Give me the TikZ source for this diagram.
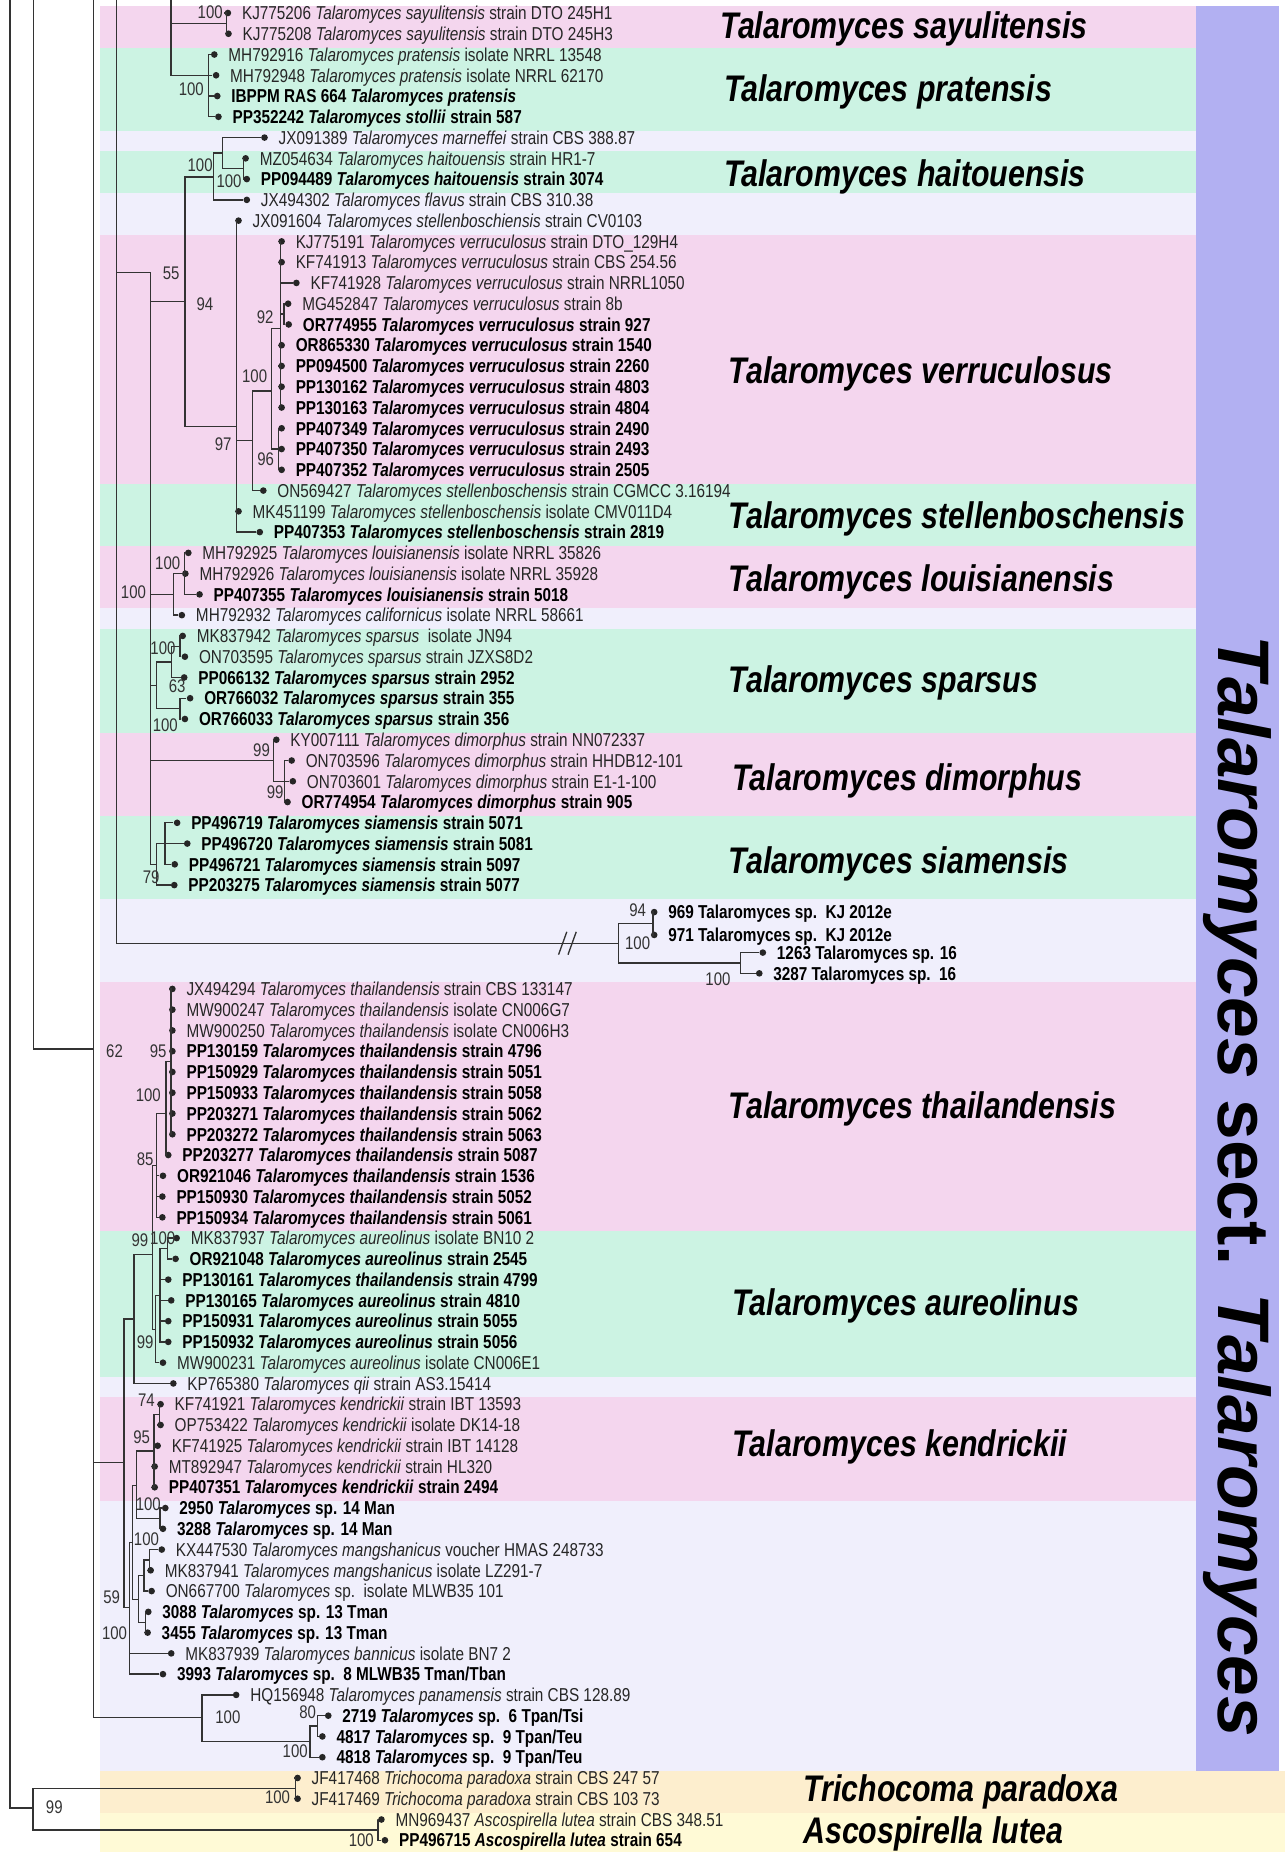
\documentclass[tikz,border=0pt]{standalone}
\usepackage{fontspec}
\setmainfont{Liberation Sans}[FakeStretch=0.82]
\newfontfamily\widefont{Liberation Sans}
\usepackage{xcolor}
\usetikzlibrary{positioning}

\definecolor{bandpink}{RGB}{244,214,238}
\definecolor{bandgreen}{RGB}{204,243,227}
\definecolor{bandlav}{RGB}{240,239,252}
\definecolor{barblue}{RGB}{178,176,242}
\definecolor{bandorange}{RGB}{253,238,206}
\definecolor{bandyellow}{RGB}{255,250,214}

\begin{document}
\begin{tikzpicture}[x=0.025cm, y=-0.4395cm,
    br/.style={draw=black!80, line width=0.8pt},
    tip/.style={circle, fill=black!85, inner sep=0pt, minimum size=4pt},
    txt/.style={font=\fontsize{11.25}{13}\selectfont, inner sep=0pt, xshift=0.215cm, text height=8.1pt, text depth=0pt, text=black!85},
    txtb/.style={txt, font=\fontsize{11.25}{13}\selectfont\bfseries, text=black},
    boot/.style={font=\fontsize{11}{12}\selectfont, inner sep=0pt, text height=7.9pt, text depth=0pt, text=black!80},
    clade/.style={anchor=west, font=\fontsize{22.3}{26}\selectfont\bfseries\itshape, inner sep=0pt, text height=16pt, text depth=0pt}]
                    \useasboundingbox (0,-0.6257) rectangle (1088,88.566);

                    % Background bands behind the clades
                    \fill[bandlav] (85,-0.33) rectangle (1013,84.67);
                    \foreach \a/\b in {0/2, 11/23, 26/29, 35/39, 47/59, 67/72}
                        \fill[bandpink] (85,\a-0.33) rectangle (1013,\b-0.33);
                    \foreach \a/\b in {2/6, 7/9, 23/26, 30/35, 39/43, 59/66}
                        \fill[bandgreen] (85,\a-0.33) rectangle (1013,\b-0.33);
                    \fill[barblue] (1013,-0.33) rectangle (1083,84.67);
                    \fill[bandorange] (85,84.67) rectangle (1088,86.67);
                    \fill[bandyellow] (85,86.67) rectangle (1088,88.566);

                    % Tips with their labels
                    \node[tip, label={[txt]right:{KJ775206 \textit{Talaromyces sayulitensis} strain DTO 245H1}}] (t00) at (193,0) {};
                    \node[tip, label={[txt]right:{KJ775208 \textit{Talaromyces sayulitensis} strain DTO 245H3}}] (t01) at (193.5,1) {};
                    \node[tip, label={[txt]right:{MH792916 \textit{Talaromyces pratensis} isolate NRRL 13548}}] (t02) at (181.5,2) {};
                    \node[tip, label={[txt]right:{MH792948 \textit{Talaromyces pratensis} isolate NRRL 62170}}] (t03) at (183,3) {};
                    \node[tip, label={[txtb]right:{IBPPM RAS 664 \textit{Talaromyces pratensis}}}] (t04) at (184,4) {};
                    \node[tip, label={[txtb]right:{PP352242 \textit{Talaromyces stollii} strain 587}}] (t05) at (185,5) {};
                    \node[tip, label={[txt]right:{JX091389 \textit{Talaromyces marneffei} strain CBS 388.87}}] (t06) at (224,6) {};
                    \node[tip, label={[txt]right:{MZ054634 \textit{Talaromyces haitouensis} strain HR1-7}}] (t07) at (208,7) {};
                    \node[tip, label={[txtb]right:{PP094489 \textit{Talaromyces haitouensis} strain 3074}}] (t08) at (209,8) {};
                    \node[tip, label={[txt]right:{JX494302 \textit{Talaromyces flavus} strain CBS 310.38}}] (t09) at (209,9) {};
                    \node[tip, label={[txt]right:{JX091604 \textit{Talaromyces stellenboschiensis} strain CV0103}}] (t10) at (202,10) {};
                    \node[tip, label={[txt]right:{KJ775191 \textit{Talaromyces verruculosus} strain DTO\_129H4}}] (t11) at (238.5,11) {};
                    \node[tip, label={[txt]right:{KF741913 \textit{Talaromyces verruculosus} strain CBS 254.56}}] (t12) at (238.5,12) {};
                    \node[tip, label={[txt]right:{KF741928 \textit{Talaromyces verruculosus} strain NRRL1050}}] (t13) at (251,13) {};
                    \node[tip, label={[txt]right:{MG452847 \textit{Talaromyces verruculosus} strain 8b}}] (t14) at (244,14) {};
                    \node[tip, label={[txtb]right:{OR774955 \textit{Talaromyces verruculosus} strain 927}}] (t15) at (244.5,15) {};
                    \node[tip, label={[txtb]right:{OR865330 \textit{Talaromyces verruculosus} strain 1540}}] (t16) at (238.5,16) {};
                    \node[tip, label={[txtb]right:{PP094500 \textit{Talaromyces verruculosus} strain 2260}}] (t17) at (238.5,17) {};
                    \node[tip, label={[txtb]right:{PP130162 \textit{Talaromyces verruculosus} strain 4803}}] (t18) at (238.5,18) {};
                    \node[tip, label={[txtb]right:{PP130163 \textit{Talaromyces verruculosus} strain 4804}}] (t19) at (238.5,19) {};
                    \node[tip, label={[txtb]right:{PP407349 \textit{Talaromyces verruculosus} strain 2490}}] (t20) at (238.5,20) {};
                    \node[tip, label={[txtb]right:{PP407350 \textit{Talaromyces verruculosus} strain 2493}}] (t21) at (238.5,21) {};
                    \node[tip, label={[txtb]right:{PP407352 \textit{Talaromyces verruculosus} strain 2505}}] (t22) at (238.5,22) {};
                    \node[tip, label={[txt]right:{ON569427 \textit{Talaromyces stellenboschensis} strain CGMCC 3.16194}}] (t23) at (223,23) {};
                    \node[tip, label={[txt]right:{MK451199 \textit{Talaromyces stellenboschensis} isolate CMV011D4}}] (t24) at (202,24) {};
                    \node[tip, label={[txtb]right:{PP407353 \textit{Talaromyces stellenboschensis} strain 2819}}] (t25) at (220,25) {};
                    \node[tip, label={[txt]right:{MH792925 \textit{Talaromyces louisianensis} isolate NRRL 35826}}] (t26) at (159.5,26) {};
                    \node[tip, label={[txt]right:{MH792926 \textit{Talaromyces louisianensis} isolate NRRL 35928}}] (t27) at (157,27) {};
                    \node[tip, label={[txtb]right:{PP407355 \textit{Talaromyces louisianensis} strain 5018}}] (t28) at (169,28) {};
                    \node[tip, label={[txt]right:{MH792932 \textit{Talaromyces californicus} isolate NRRL 58661}}] (t29) at (154,29) {};
                    \node[tip, label={[txt]right:{MK837942 \textit{Talaromyces sparsus}\ \ isolate JN94}}] (t30) at (154.7,30) {};
                    \node[tip, label={[txt]right:{ON703595 \textit{Talaromyces sparsus} strain JZXS8D2}}] (t31) at (156.6,31) {};
                    \node[tip, label={[txtb]right:{PP066132 \textit{Talaromyces sparsus} strain 2952}}] (t32) at (156,32) {};
                    \node[tip, label={[txtb]right:{OR766032 \textit{Talaromyces sparsus} strain 355}}] (t33) at (161,33) {};
                    \node[tip, label={[txtb]right:{OR766033 \textit{Talaromyces sparsus} strain 356}}] (t34) at (156.6,34) {};
                    \node[tip, label={[txt]right:{KY007111 \textit{Talaromyces dimorphus} strain NN072337}}] (t35) at (234,35) {};
                    \node[tip, label={[txt]right:{ON703596 \textit{Talaromyces dimorphus} strain HHDB12-101}}] (t36) at (247,36) {};
                    \node[tip, label={[txt]right:{ON703601 \textit{Talaromyces dimorphus} strain E1-1-100}}] (t37) at (248,37) {};
                    \node[tip, label={[txtb]right:{OR774954 \textit{Talaromyces dimorphus} strain 905}}] (t38) at (243.5,38) {};
                    \node[tip, label={[txtb]right:{PP496719 \textit{Talaromyces siamensis} strain 5071}}] (t39) at (150,39) {};
                    \node[tip, label={[txtb]right:{PP496720 \textit{Talaromyces siamensis} strain 5081}}] (t40) at (158.6,40) {};
                    \node[tip, label={[txtb]right:{PP496721 \textit{Talaromyces siamensis} strain 5097}}] (t41) at (148,41) {};
                    \node[tip, label={[txtb]right:{PP203275 \textit{Talaromyces siamensis} strain 5077}}] (t42) at (147.6,42) {};
                    \node[tip, label={[txtb]right:{969 Talaromyces sp.\ \ KJ 2012e}}] (t43) at (554,43.3) {};
                    \node[tip, label={[txtb]right:{971 Talaromyces sp.\ \ KJ 2012e}}] (t44) at (554,44.4) {};
                    \node[tip, label={[txtb]right:{1263 Talaromyces sp. 16}}] (t45) at (646,45.25) {};
                    \node[tip, label={[txtb]right:{3287 Talaromyces sp.\ \ 16}}] (t46) at (643,46.25) {};
                    \node[tip, label={[txt]right:{JX494294 \textit{Talaromyces thailandensis} strain CBS 133147}}] (t47) at (146,47) {};
                    \node[tip, label={[txt]right:{MW900247 \textit{Talaromyces thailandensis} isolate CN006G7}}] (t48) at (146,48) {};
                    \node[tip, label={[txt]right:{MW900250 \textit{Talaromyces thailandensis} isolate CN006H3}}] (t49) at (146,49) {};
                    \node[tip, label={[txtb]right:{PP130159 \textit{Talaromyces thailandensis} strain 4796}}] (t50) at (146,50) {};
                    \node[tip, label={[txtb]right:{PP150929 \textit{Talaromyces thailandensis} strain 5051}}] (t51) at (146,51) {};
                    \node[tip, label={[txtb]right:{PP150933 \textit{Talaromyces thailandensis} strain 5058}}] (t52) at (146,52) {};
                    \node[tip, label={[txtb]right:{PP203271 \textit{Talaromyces thailandensis} strain 5062}}] (t53) at (146,53) {};
                    \node[tip, label={[txtb]right:{PP203272 \textit{Talaromyces thailandensis} strain 5063}}] (t54) at (146,54) {};
                    \node[tip, label={[txtb]right:{PP203277 \textit{Talaromyces thailandensis} strain 5087}}] (t55) at (142.5,55) {};
                    \node[tip, label={[txtb]right:{OR921046 \textit{Talaromyces thailandensis} strain 1536}}] (t56) at (138,56) {};
                    \node[tip, label={[txtb]right:{PP150930 \textit{Talaromyces thailandensis} strain 5052}}] (t57) at (137.5,57) {};
                    \node[tip, label={[txtb]right:{PP150934 \textit{Talaromyces thailandensis} strain 5061}}] (t58) at (137.5,58) {};
                    \node[tip, label={[txt]right:{MK837937 \textit{Talaromyces aureolinus} isolate BN10 2}}] (t59) at (149.6,59) {};
                    \node[tip, label={[txtb]right:{OR921048 \textit{Talaromyces aureolinus} strain 2545}}] (t60) at (148.7,60) {};
                    \node[tip, label={[txtb]right:{PP130161 \textit{Talaromyces thailandensis} strain 4799}}] (t61) at (142.5,61) {};
                    \node[tip, label={[txtb]right:{PP130165 \textit{Talaromyces aureolinus} strain 4810}}] (t62) at (145,62) {};
                    \node[tip, label={[txtb]right:{PP150931 \textit{Talaromyces aureolinus} strain 5055}}] (t63) at (142.5,63) {};
                    \node[tip, label={[txtb]right:{PP150932 \textit{Talaromyces aureolinus} strain 5056}}] (t64) at (142.5,64) {};
                    \node[tip, label={[txt]right:{MW900231 \textit{Talaromyces aureolinus} isolate CN006E1}}] (t65) at (138,65) {};
                    \node[tip, label={[txt]right:{KP765380 \textit{Talaromyces qii} strain AS3.15414}}] (t66) at (146.8,66) {};
                    \node[tip, label={[txt]right:{KF741921 \textit{Talaromyces kendrickii} strain IBT 13593}}] (t67) at (136,67) {};
                    \node[tip, label={[txt]right:{OP753422 \textit{Talaromyces kendrickii} isolate DK14-18}}] (t68) at (136,68) {};
                    \node[tip, label={[txt]right:{KF741925 \textit{Talaromyces kendrickii} strain IBT 14128}}] (t69) at (133.5,69) {};
                    \node[tip, label={[txt]right:{MT892947 \textit{Talaromyces kendrickii} strain HL320}}] (t70) at (131,70) {};
                    \node[tip, label={[txtb]right:{PP407351 \textit{Talaromyces kendrickii} strain 2494}}] (t71) at (131,71) {};
                    \node[tip, label={[txtb]right:{2950 \textit{Talaromyces} sp. 14 Man}}] (t72) at (140,72) {};
                    \node[tip, label={[txtb]right:{3288 \textit{Talaromyces} sp. 14 Man}}] (t73) at (138,73) {};
                    \node[tip, label={[txt]right:{KX447530 \textit{Talaromyces mangshanicus} voucher HMAS 248733}}] (t74) at (137,74) {};
                    \node[tip, label={[txt]right:{MK837941 \textit{Talaromyces mangshanicus} isolate LZ291-7}}] (t75) at (127.6,75) {};
                    \node[tip, label={[txt]right:{ON667700 \textit{Talaromyces} sp.\ \ isolate MLWB35 101}}] (t76) at (128.4,76) {};
                    \node[tip, label={[txtb]right:{3088 \textit{Talaromyces} sp. 13 Tman}}] (t77) at (125.6,77) {};
                    \node[tip, label={[txtb]right:{3455 \textit{Talaromyces} sp. 13 Tman}}] (t78) at (125,78) {};
                    \node[tip, label={[txt]right:{MK837939 \textit{Talaromyces bannicus} isolate BN7 2}}] (t79) at (145,79) {};
                    \node[tip, label={[txtb]right:{3993 \textit{Talaromyces} sp.\ \ 8 MLWB35 Tman/Tban}}] (t80) at (138,80) {};
                    \node[tip, label={[txt]right:{HQ156948 \textit{Talaromyces panamensis} strain CBS 128.89}}] (t81) at (200,81) {};
                    \node[tip, label={[txtb]right:{2719 \textit{Talaromyces} sp.\ \ 6 Tpan/Tsi}}] (t82) at (278,82) {};
                    \node[tip, label={[txtb]right:{4817 \textit{Talaromyces} sp.\ \ 9 Tpan/Teu}}] (t83) at (273,83) {};
                    \node[tip, label={[txtb]right:{4818 \textit{Talaromyces} sp.\ \ 9 Tpan/Teu}}] (t84) at (273,84) {};
                    \node[tip, label={[txt]right:{JF417468 \textit{Trichocoma paradoxa} strain CBS 247 57}}] (t85) at (252,85) {};
                    \node[tip, label={[txt]right:{JF417469 \textit{Trichocoma paradoxa} strain CBS 103 73}}] (t86) at (252,86) {};
                    \node[tip, label={[txt]right:{MN969437 \textit{Ascospirella lutea} strain CBS 348.51}}] (t87) at (323,87) {};
                    \node[tip, label={[txtb]right:{PP496715 \textit{Ascospirella lutea} strain 654}}] (t88) at (326,88) {};

                    % Internal nodes (x = node depth, y = row where the parent branch joins)
                    \coordinate (top8) at (8.5,-0.63);
                    \coordinate (top28) at (28.2,-0.63);
                    \coordinate (top79) at (79,-0.63);
                    \coordinate (top99) at (98.8,-0.63);
                    \coordinate (top145) at (144.8,-0.63);
                    \coordinate (say) at (192,0.5);
                    \coordinate (prat) at (176.4,3);
                    \coordinate (n127) at (127.6,12.5);
                    \coordinate (n157) at (156.6,13.9);
                    \coordinate (h0) at (180.6,7.9);
                    \coordinate (h1) at (188.5,6.75);
                    \coordinate (h2) at (206,7.5);
                    \coordinate (n200) at (200.4,19.9);
                    \coordinate (v100) at (213.7,20.6);
                    \coordinate (n231) at (230,18.2);
                    \coordinate (na) at (237.5,15.2);
                    \coordinate (n92) at (240.5,14.5);
                    \coordinate (n96) at (236,21);
                    \coordinate (l0) at (146.8,28);
                    \coordinate (l1) at (156,27);
                    \coordinate (s0) at (132.7,32.4);
                    \coordinate (s1) at (145.5,31.25);
                    \coordinate (s1a) at (152.4,30.5);
                    \coordinate (s2) at (152.4,33.5);
                    \coordinate (d0) at (231.4,36);
                    \coordinate (d1) at (241,37);
                    \coordinate (sm0) at (132.7,41);
                    \coordinate (sm1) at (139.7,40);
                    \coordinate (k0) at (524,44.8);
                    \coordinate (k1) at (553,43.85);
                    \coordinate (k2) at (627,45.75);
                    \coordinate (brk) at (482,44.8);
                    \coordinate (n79) at (79,49.9);
                    \coordinate (t0) at (105,69.8);
                    \coordinate (q) at (113.5,62.9);
                    \coordinate (r) at (129.3,59.8);
                    \coordinate (th0) at (132.6,55.5);
                    \coordinate (th1) at (140.6,53);
                    \coordinate (th2) at (144.8,50.5);
                    \coordinate (au0) at (131.5,63.4);
                    \coordinate (au1) at (135.4,61.75);
                    \coordinate (au2) at (142,59.5);
                    \coordinate (y0) at (109.5,76.8);
                    \coordinate (y1) at (112,73.65);
                    \coordinate (y2) at (115.7,70.9);
                    \coordinate (y3) at (117.5,76.4);
                    \coordinate (y4) at (122,75.25);
                    \coordinate (kk0) at (130.5,69.25);
                    \coordinate (kk1) at (135,67.5);
                    \coordinate (sp14) at (135.4,72.5);
                    \coordinate (mg) at (126.5,74.5);
                    \coordinate (tm) at (123.5,77.5);
                    \coordinate (p0) at (171,82.1);
                    \coordinate (p1) at (262.6,83.25);
                    \coordinate (p2) at (268.8,82.5);
                    \coordinate (og) at (28,86.45);
                    \coordinate (tri) at (250,85.5);
                    \coordinate (asc) at (320,87.5);

                    % Branches
                    \draw[br] (top8) |- (og);
                    \draw[br] (og) |- (tri);  \draw[br] (og) |- (asc);
                    \draw[br] (tri) |- (t85); \draw[br] (tri) |- (t86);
                    \draw[br] (asc) |- (t87); \draw[br] (asc) |- (t88);
                    \draw[br] (top145) |- (say); \draw[br] (top145) |- (prat);
                    \draw[br] (say) |- (t00); \draw[br] (say) |- (t01);
                    \foreach \c in {t02,t03,t04,t05} \draw[br] (prat) |- (\c);
                    \draw[br] (top99) |- (n127); \draw[br] (top99) |- (k0);
                    \foreach \c in {n157,l0,s0,d0,sm0} \draw[br] (n127) |- (\c);
                    \draw[br] (n157) |- (h0); \draw[br] (n157) |- (n200);
                    \draw[br] (h0) |- (h1); \draw[br] (h0) |- (t09);
                    \draw[br] (h1) |- (t06); \draw[br] (h1) |- (h2);
                    \draw[br] (h2) |- (t07); \draw[br] (h2) |- (t08);
                    \foreach \c in {t10,v100,t24,t25} \draw[br] (n200) |- (\c);
                    \draw[br] (v100) |- (n231); \draw[br] (v100) |- (t23);
                    \draw[br] (n231) |- (na); \draw[br] (n231) |- (n96);
                    \foreach \c in {t11,t12,t13,n92,t16,t17,t18,t19} \draw[br] (na) |- (\c);
                    \draw[br] (n92) |- (t14); \draw[br] (n92) |- (t15);
                    \foreach \c in {t20,t21,t22} \draw[br] (n96) |- (\c);
                    \draw[br] (l0) |- (l1); \draw[br] (l0) |- (t29);
                    \foreach \c in {t26,t27,t28} \draw[br] (l1) |- (\c);
                    \draw[br] (s0) |- (s1); \draw[br] (s0) |- (s2);
                    \draw[br] (s1) |- (s1a); \draw[br] (s1) |- (t32);
                    \draw[br] (s1a) |- (t30); \draw[br] (s1a) |- (t31);
                    \draw[br] (s2) |- (t33); \draw[br] (s2) |- (t34);
                    \draw[br] (d0) |- (t35); \draw[br] (d0) |- (d1);
                    \foreach \c in {t36,t37,t38} \draw[br] (d1) |- (\c);
                    \draw[br] (sm0) |- (sm1); \draw[br] (sm0) |- (t42);
                    \foreach \c in {t39,t40,t41} \draw[br] (sm1) |- (\c);
                    \draw[br] (k0) |- (k1); \draw[br] (k0) |- (k2);
                    \draw[br] (k1) |- (t43); \draw[br] (k1) |- (t44);
                    \draw[br] (k2) |- (t45); \draw[br] (k2) |- (t46);
                    \draw[br] ([shift={(-9,0.55)}]brk) -- ++(7,-1.1);
                    \draw[br] ([shift={(-1,0.55)}]brk) -- ++(7,-1.1);
                    \draw[br] (top28) |- (n79);
                    \draw[br] (top79) |- (p0); \draw[br] (n79) |- (t0);
                    \draw[br] (t0) |- (q); \draw[br] (t0) |- (y0);
                    \draw[br] (q) |- (r); \draw[br] (q) |- (t66);
                    \draw[br] (r) |- (th0); \draw[br] (r) |- (au0);
                    \foreach \c in {th1,t56,t57,t58} \draw[br] (th0) |- (\c);
                    \draw[br] (th1) |- (th2); \draw[br] (th1) |- (t55);
                    \foreach \c in {t47,t48,t49,t50,t51,t52,t53,t54} \draw[br] (th2) |- (\c);
                    \draw[br] (au0) |- (au1); \draw[br] (au0) |- (t65);
                    \foreach \c in {au2,t61,t62,t63,t64} \draw[br] (au1) |- (\c);
                    \draw[br] (au2) |- (t59); \draw[br] (au2) |- (t60);
                    \foreach \c in {y1,t79,t80} \draw[br] (y0) |- (\c);
                    \draw[br] (y1) |- (y2); \draw[br] (y1) |- (y3);
                    \draw[br] (y2) |- (kk0); \draw[br] (y2) |- (sp14);
                    \foreach \c in {kk1,t69,t70,t71} \draw[br] (kk0) |- (\c);
                    \draw[br] (kk1) |- (t67); \draw[br] (kk1) |- (t68);
                    \draw[br] (sp14) |- (t72); \draw[br] (sp14) |- (t73);
                    \draw[br] (y3) |- (y4); \draw[br] (y3) |- (tm);
                    \draw[br] (y4) |- (mg); \draw[br] (y4) |- (t76);
                    \draw[br] (mg) |- (t74); \draw[br] (mg) |- (t75);
                    \draw[br] (tm) |- (t77); \draw[br] (tm) |- (t78);
                    \draw[br] (p0) |- (t81); \draw[br] (p0) |- (p1);
                    \draw[br] (p1) |- (p2); \draw[br] (p1) |- (t84);
                    \draw[br] (p2) |- (t82); \draw[br] (p2) |- (t83);

                    % Bootstrap values
                    \node[boot] (b01) at (178,-0.05) {100};
                    \node[boot] (b02) at (162,3.65) {100};
                    \node[boot] (b03) at (169.5,7.3) {100};
                    \node[boot] (b04) at (194,8.1) {100};
                    \node[boot] (b05) at (145,12.5) {55};
                    \node[boot] (b06) at (173.6,14) {94};
                    \node[boot] (b07) at (224.5,14.65) {92};
                    \node[boot] (b08) at (215.6,17.5) {100};
                    \node[boot] (b09) at (189,20.75) {97};
                    \node[boot] (b10) at (225,21.5) {96};
                    \node[boot] (b11) at (142,26.5) {100};
                    \node[boot] (b12) at (113,27.9) {100};
                    \node[boot] (b13) at (138,30.6) {100};
                    \node[boot] (b14) at (150,32.4) {63};
                    \node[boot] (b15) at (140,34.3) {100};
                    \node[boot] (b16) at (221.5,35.5) {99};
                    \node[boot] (b17) at (233,37.5) {99};
                    \node[boot] (b18) at (128,41.6) {79};
                    \node[boot] (b19) at (540,43.2) {94};
                    \node[boot] (b20) at (540,44.8) {100};
                    \node[boot] (b21) at (608,46.5) {100};
                    \node[boot] (b22) at (97,50) {62};
                    \node[boot] (b23) at (134,50) {95};
                    \node[boot] (b24) at (125.6,52.1) {100};
                    \node[boot] (b25) at (123,55.2) {85};
                    \node[boot] (b26) at (118.5,59.1) {99};
                    \node[boot] (b27) at (137.8,59) {100};
                    \node[boot] (b28) at (123,64) {99};
                    \node[boot] (b29) at (124,66.8) {74};
                    \node[boot] (b30) at (120,68.6) {95};
                    \node[boot] (b31) at (125.6,71.8) {100};
                    \node[boot] (b32) at (124,73.5) {100};
                    \node[boot] (b33) at (94.5,76.3) {59};
                    \node[boot] (b34) at (97,78) {100};
                    \node[boot] (b35) at (260.6,81.8) {80};
                    \node[boot] (b36) at (193,82.05) {100};
                    \node[boot] (b37) at (250,83.7) {100};
                    \node[boot] (b38) at (235,85.9) {100};
                    \node[boot] (b39) at (46,86.4) {99};
                    \node[boot] (b40) at (306,88) {100};

                    % Clade names
                    \node[clade] (cSay) at (610,0.6) {Talaromyces sayulitensis};
                    \node[clade] (cPra) at (613,3.64) {Talaromyces pratensis};
                    \node[clade] (cHai) at (613,7.7) {Talaromyces haitouensis};
                    \node[clade] (cVer) at (617,17.2) {Talaromyces verruculosus};
                    \node[clade] (cSte) at (617,24.2) {Talaromyces stellenboschensis};
                    \node[clade] (cLou) at (617,27.2) {Talaromyces louisianensis};
                    \node[clade] (cSpa) at (617,32.1) {Talaromyces sparsus};
                    \node[clade] (cDim) at (620,36.8) {Talaromyces dimorphus};
                    \node[clade] (cSia) at (617,40.8) {Talaromyces siamensis};
                    \node[clade] (cTha) at (617,52.6) {Talaromyces thailandensis};
                    \node[clade] (cAur) at (620,62.1) {Talaromyces aureolinus};
                    \node[clade] (cKen) at (620,68.9) {Talaromyces kendrickii};
                    \node[clade] (cTri) at (680,85.5) {Trichocoma paradoxa};
                    \node[clade] (cAsc) at (680,87.5) {Ascospirella lutea};

                    % Section label on the bar
                    \node[rotate=-90, inner sep=0pt, font=\widefont\bfseries\fontsize{44}{48}\selectfont] (sect) at (1048,56.5) {\textit{Talaromyces} sect. \textit{Talaromyces}};
                \end{tikzpicture}
\end{document}
